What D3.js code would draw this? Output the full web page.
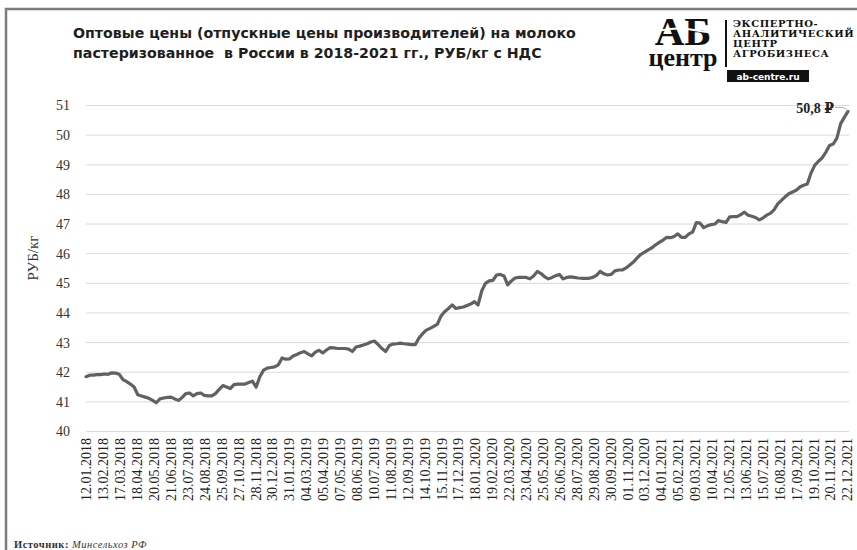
<!DOCTYPE html>
<html>
<head>
<meta charset="utf-8">
<script src="https://cdn.jsdelivr.net/npm/d3@7"></script>
<style>
  body { margin: 0; background: #fff; }
  svg { display: block; }
</style>
</head>
<body>
<div id="chart"></div>
<script>
// weekly prices, first point 12.01.2018, RUB/kg incl. VAT
var startDate = '12.01.2018';
var prices = [
  41.85, 41.9, 41.9, 41.92, 41.92, 41.94, 41.93, 41.98, 41.97, 41.93,
  41.75, 41.68, 41.6, 41.5, 41.24, 41.2, 41.16, 41.12, 41.05, 40.97,
  41.1, 41.13, 41.15, 41.16, 41.1, 41.05, 41.15, 41.28, 41.3, 41.2,
  41.28, 41.3, 41.22, 41.2, 41.2, 41.28, 41.42, 41.55, 41.5, 41.45,
  41.58, 41.6, 41.6, 41.6, 41.65, 41.7, 41.5, 41.85, 42.07, 42.14,
  42.16, 42.18, 42.25, 42.48, 42.44, 42.45, 42.55, 42.6, 42.66, 42.7,
  42.62, 42.55, 42.68, 42.74, 42.65, 42.75, 42.83, 42.82, 42.8, 42.8,
  42.8, 42.78, 42.7, 42.85, 42.88, 42.92, 42.96, 43.02, 43.05, 42.93,
  42.8, 42.7, 42.9, 42.95, 42.96, 42.98, 42.96, 42.95, 42.93, 42.93,
  43.15, 43.3, 43.42, 43.48, 43.55, 43.62, 43.9, 44.05, 44.15, 44.27,
  44.15, 44.18, 44.2, 44.25, 44.3, 44.38, 44.27, 44.75, 45.0, 45.08,
  45.1, 45.28, 45.3, 45.25, 44.95, 45.08, 45.18, 45.2, 45.2, 45.2,
  45.15, 45.25, 45.4, 45.33, 45.22, 45.15, 45.2, 45.26, 45.3, 45.15,
  45.2, 45.22, 45.2, 45.18, 45.17, 45.17, 45.17, 45.2, 45.27, 45.4,
  45.32, 45.28, 45.3, 45.42, 45.45, 45.45, 45.52, 45.62, 45.72, 45.86,
  45.98, 46.05, 46.13, 46.2, 46.3, 46.38, 46.46, 46.55, 46.54, 46.58,
  46.67, 46.55, 46.55, 46.67, 46.73, 47.05, 47.03, 46.88, 46.94, 46.98,
  47.0, 47.12, 47.08, 47.05, 47.24, 47.25, 47.25, 47.32, 47.4, 47.3,
  47.26, 47.22, 47.14, 47.2, 47.3, 47.36, 47.48, 47.68, 47.8, 47.92,
  48.02, 48.08, 48.14, 48.25, 48.31, 48.35, 48.72, 48.98, 49.12, 49.23,
  49.42, 49.65, 49.7, 49.9, 50.38, 50.6, 50.8
];

var xLabels = [
  '12.01.2018', '13.02.2018', '17.03.2018', '18.04.2018', '20.05.2018', '21.06.2018',
  '23.07.2018', '24.08.2018', '25.09.2018', '27.10.2018', '28.11.2018', '30.12.2018',
  '31.01.2019', '04.03.2019', '05.04.2019', '07.05.2019', '08.06.2019', '10.07.2019',
  '11.08.2019', '12.09.2019', '14.10.2019', '15.11.2019', '17.12.2019', '18.01.2020',
  '19.02.2020', '22.03.2020', '23.04.2020', '25.05.2020', '26.06.2020', '28.07.2020',
  '29.08.2020', '30.09.2020', '01.11.2020', '03.12.2020', '04.01.2021', '05.02.2021',
  '09.03.2021', '10.04.2021', '12.05.2021', '13.06.2021', '15.07.2021', '16.08.2021',
  '17.09.2021', '19.10.2021', '20.11.2021', '22.12.2021'
];
var yTicks = [40, 41, 42, 43, 44, 45, 46, 47, 48, 49, 50, 51];

var titleLines = [
  'Оптовые цены (отпускные цены производителей) на молоко',
  'пастеризованное  в России в 2018-2021 гг., РУБ/кг с НДС'
];
var logoLines = ['ЭКСПЕРТНО-', 'АНАЛИТИЧЕСКИЙ', 'ЦЕНТР', 'АГРОБИЗНЕСА'];

var width = 857,
    height = 550,
    serif = 'Liberation Serif, Times New Roman, DejaVu Serif, serif',
    parse = d3.timeParse('%d.%m.%Y'),
    t0 = parse(startDate);

var points = prices.map(function(v, i) {
  return {date: d3.timeDay.offset(t0, i * 7), value: v};
});

var svg = d3.select('#chart').append('svg')
    .attr('width', width)
    .attr('height', height);

svg.append('rect').attr('width', width).attr('height', height).attr('fill', '#fff');

// frame
svg.append('path')
    .attr('d', 'M6,' + height + 'V9H' + width)
    .attr('fill', 'none')
    .attr('stroke', '#7d7d7d')
    .attr('stroke-width', 2.5);

var x = d3.scaleTime()
    .domain([t0, points[points.length - 1].date])
    .range([86, 848]);

var y = d3.scaleLinear()
    .domain([40, 51])
    .range([431.5, 105.5]);

// grid
svg.append('g').selectAll('line')
    .data(yTicks)
  .join('line')
    .attr('x1', 86).attr('x2', 849)
    .attr('y1', function(d) { return y(d); })
    .attr('y2', function(d) { return y(d); })
    .attr('stroke', '#dadada')
    .attr('stroke-width', 1);

var yAxis = svg.append('g')
    .attr('transform', 'translate(86,0)')
    .call(d3.axisLeft(y).tickValues(yTicks).tickSize(0).tickPadding(16));
yAxis.select('.domain').remove();
yAxis.attr('font-family', null).attr('font-size', null);
yAxis.selectAll('text')
    .style('font-family', serif)
    .style('font-size', '14px')
    .attr('fill', '#333');

var xAxis = svg.append('g')
    .attr('transform', 'translate(0,436)')
    .call(d3.axisBottom(x)
      .tickValues(xLabels.map(parse))
      .tickFormat(d3.timeFormat('%d.%m.%Y'))
      .tickSize(0));
xAxis.select('.domain').remove();
xAxis.attr('font-family', null).attr('font-size', null);
xAxis.selectAll('text')
    .style('font-family', serif)
    .style('font-size', '14px')
    .attr('fill', '#222')
    .attr('text-anchor', 'end')
    .attr('dy', '0.35em')
    .attr('transform', 'translate(0,2) rotate(-90)')
    .attr('x', 0)
    .attr('y', 0);

svg.append('text')
    .attr('transform', 'translate(38,258) rotate(-90)')
    .attr('text-anchor', 'middle')
    .style('font-family', serif)
    .style('font-size', '15px')
    .attr('fill', '#333')
    .text('РУБ/кг');

// series
var line = d3.line()
    .x(function(d) { return x(d.date); })
    .y(function(d) { return y(d.value); });

svg.append('path')
    .datum(points)
    .attr('d', line)
    .attr('fill', 'none')
    .attr('stroke', '#616161')
    .attr('stroke-width', 3.2)
    .attr('stroke-linejoin', 'round')
    .attr('stroke-linecap', 'round');

// last value callout
var last = points[points.length - 1],
    lx = x(last.date),
    ly = y(last.value);

svg.append('path')
    .attr('d', 'M' + (lx - 13) + ',' + (ly - 4) + 'H' + (lx - 6) + 'Q' + (lx - 2) + ',' + (ly - 4) + ' ' + lx + ',' + ly)
    .attr('fill', 'none')
    .attr('stroke', '#999')
    .attr('stroke-width', 0.8);

svg.append('text')
    .attr('x', lx - 14)
    .attr('y', ly + 2)
    .attr('text-anchor', 'end')
    .style('font-family', serif)
    .style('font-weight', 'bold')
    .style('font-size', '14px')
    .attr('fill', '#222')
    .text('50,8 ₽');

// title
svg.append('g').selectAll('text')
    .data(titleLines)
  .join('text')
    .attr('x', 73)
    .attr('y', function(d, i) { return 38 + i * 20; })
    .style('font-family', 'DejaVu Sans, sans-serif')
    .style('font-weight', 'bold')
    .style('font-size', '14.2px')
    .style('white-space', 'pre')
    .attr('fill', '#1e1e1e')
    .text(function(d) { return d; });

// logo
var logo = svg.append('g');
logo.append('text')
    .attr('x', 683).attr('y', 45)
    .attr('text-anchor', 'middle')
    .style('font-family', serif)
    .style('font-weight', 'bold')
    .style('font-size', '41px')
    .attr('fill', '#111')
    .text('АБ');
logo.append('path')
    .attr('d', 'M645,36 Q670,24 700,31 Q715,34 722,28')
    .attr('fill', 'none')
    .attr('stroke', '#fff')
    .attr('stroke-width', 2);
logo.append('text')
    .attr('x', 683).attr('y', 66)
    .attr('text-anchor', 'middle')
    .style('font-family', serif)
    .style('font-weight', 'bold')
    .style('font-size', '26px')
    .attr('fill', '#111')
    .text('центр');
logo.append('rect')
    .attr('x', 725).attr('y', 20).attr('width', 2).attr('height', 47)
    .attr('fill', '#111');
logo.append('g').selectAll('text')
    .data(logoLines)
  .join('text')
    .attr('x', 733)
    .attr('y', function(d, i) { return 27 + i * 10; })
    .style('font-family', 'DejaVu Serif, serif')
    .style('font-weight', 'bold')
    .style('font-size', '10px')
    .style('letter-spacing', '0.6px')
    .attr('fill', '#111')
    .text(function(d) { return d; });
logo.append('rect')
    .attr('x', 727).attr('y', 70).attr('width', 82).attr('height', 12)
    .attr('fill', '#111');
logo.append('text')
    .attr('x', 768).attr('y', 79.5)
    .attr('text-anchor', 'middle')
    .style('font-family', 'DejaVu Sans, sans-serif')
    .style('font-weight', 'bold')
    .style('font-size', '9px')
    .attr('fill', '#fff')
    .text('ab-centre.ru');

// source
var src = svg.append('text')
    .attr('x', 14).attr('y', 548)
    .style('font-family', serif)
    .style('font-size', '10.5px')
    .style('letter-spacing', '0.5px')
    .attr('fill', '#333');
src.append('tspan').style('font-weight', 'bold').text('Источник: ');
src.append('tspan').style('font-style', 'italic').text('Минсельхоз РФ');
</script>
</body>
</html>
